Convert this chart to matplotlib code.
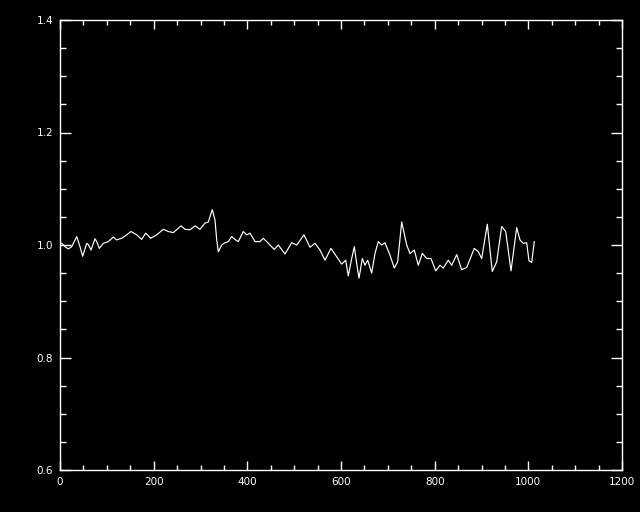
import matplotlib
matplotlib.use("Agg")
import matplotlib.pyplot as plt
from matplotlib.ticker import MultipleLocator

x_vals = [3.6, 10.7, 17.7, 25.0, 35.7, 42.7, 48.5, 57.0, 60.4, 66.2, 74.7, 78.4, 83.9, 92.5,
          103.1, 113.8, 121.1, 131.7, 142.4, 151.6, 163.8, 174.4, 183.0, 193.7, 206.5, 220.6,
          231.2, 241.9, 258.4, 266.9, 277.6, 288.3, 298.9, 309.6, 316.7, 325.2, 331.0, 334.6,
          338.0, 345.3, 352.3, 359.4, 366.6, 373.7, 380.7, 391.4, 398.6, 405.7, 416.4, 427.0,
          434.1, 444.8, 457.6, 466.1, 480.4, 494.7, 505.4, 521.0, 533.8, 544.5, 555.2, 565.8,
          578.6, 590.8, 601.5, 610.0, 615.6, 622.8, 628.4, 633.5, 638.4, 645.5, 651.2, 657.0,
          665.5, 672.6, 679.6, 686.9, 693.9, 704.6, 713.8, 721.0, 729.6, 740.3, 747.3, 756.5,
          765.0, 773.6, 783.0, 792.2, 802.2, 811.4, 818.4, 829.1, 836.4, 847.1, 857.7, 868.4,
          884.6, 893.2, 900.4, 912.4, 923.0, 932.4, 943.1, 951.7, 963.0, 975.1, 982.2, 989.2,
          996.5, 1001.4, 1007.2, 1012.7]
y_vals = [1.003, 0.997, 0.993, 0.997, 1.015, 0.997, 0.980, 1.003, 1.001, 0.991, 1.011, 1.006,
          0.994, 1.003, 1.006, 1.014, 1.009, 1.012, 1.018, 1.024, 1.018, 1.010, 1.021, 1.012,
          1.018, 1.028, 1.024, 1.022, 1.034, 1.028, 1.027, 1.034, 1.028, 1.039, 1.041, 1.063,
          1.044, 1.009, 0.988, 1.000, 1.004, 1.006, 1.015, 1.010, 1.006, 1.024, 1.018, 1.021,
          1.006, 1.006, 1.012, 1.003, 0.992, 1.000, 0.984, 1.004, 1.000, 1.018, 0.996, 1.003,
          0.991, 0.973, 0.994, 0.979, 0.966, 0.973, 0.945, 0.976, 0.997, 0.967, 0.941, 0.976,
          0.964, 0.973, 0.950, 0.985, 1.006, 1.000, 1.004, 0.982, 0.959, 0.970, 1.041, 1.000,
          0.985, 0.991, 0.964, 0.985, 0.976, 0.976, 0.954, 0.964, 0.959, 0.973, 0.964, 0.983,
          0.956, 0.960, 0.994, 0.988, 0.976, 1.037, 0.953, 0.970, 1.033, 1.024, 0.954, 1.031,
          1.009, 1.003, 1.004, 0.972, 0.969, 1.006]

x_ticks = [0, 200, 400, 600, 800, 1000, 1200]
y_ticks = [0.6, 0.8, 1.0, 1.2, 1.4]

fig = plt.figure(figsize=(6.4, 5.12), dpi=100, facecolor="black")
ax = fig.add_axes([60/640, 1 - 470/512, 562/640, 450/512], facecolor="black")
ax.plot(x_vals, y_vals, color="white", linewidth=0.85)
ax.set_xlim(0, 1200)
ax.set_ylim(0.6, 1.4)
ax.set_xticks(x_ticks)
ax.set_xticklabels([str(t) for t in x_ticks])
ax.set_yticks(y_ticks)
ax.set_yticklabels([f"{t:.1f}" for t in y_ticks])
ax.xaxis.set_minor_locator(MultipleLocator(50))
ax.yaxis.set_minor_locator(MultipleLocator(0.05))
for s in ax.spines.values():
    s.set_color("white")
    s.set_linewidth(1.0)
ax.tick_params(axis="x", which="major", direction="in", length=6.5, width=1, color="white",
               labelcolor="white", labelsize=7.5, top=True, pad=5)
ax.tick_params(axis="x", which="minor", direction="in", length=3.3, width=1, color="white", top=True)
ax.tick_params(axis="y", which="major", direction="in", length=8, width=1, color="white",
               labelcolor="white", labelsize=7.5, right=True, pad=5)
ax.tick_params(axis="y", which="minor", direction="in", length=4, width=1, color="white", right=True)
fig.savefig("out.png", dpi=100, facecolor="black")
